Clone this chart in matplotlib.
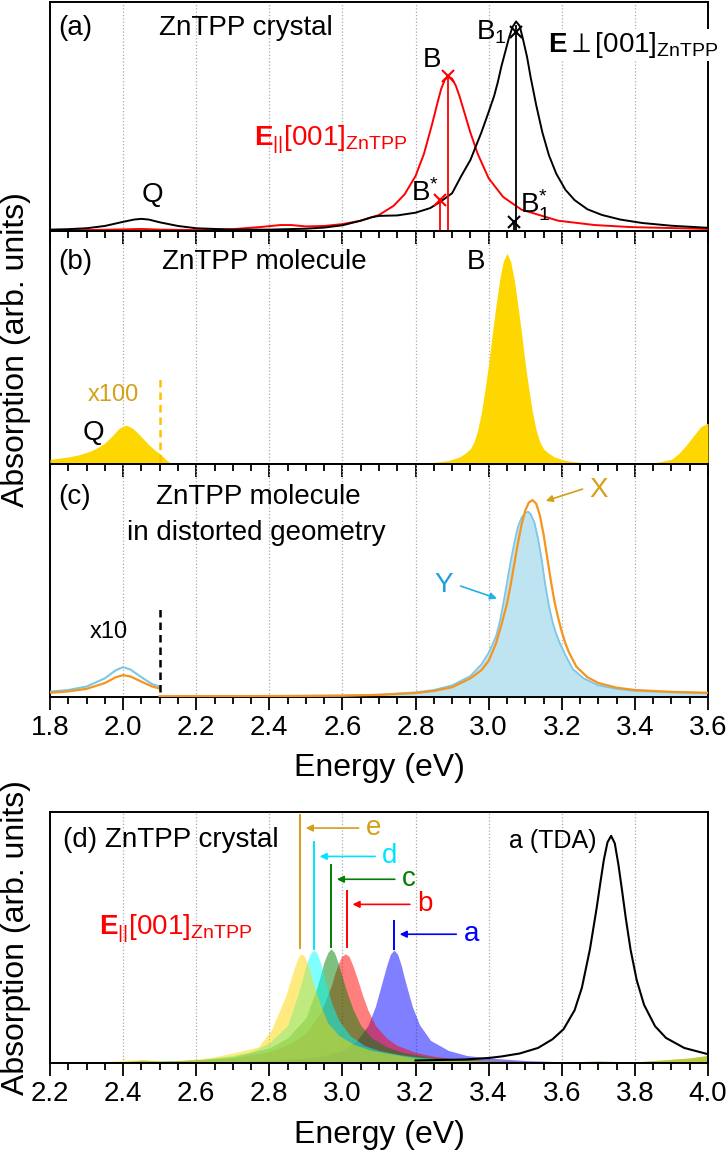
import matplotlib
matplotlib.use('Agg')
import matplotlib.pyplot as plt
from matplotlib.ticker import MultipleLocator, FormatStrFormatter

plt.rcParams['font.family'] = ['Liberation Sans', 'DejaVu Sans']
plt.rcParams['mathtext.fontset'] = 'custom'
plt.rcParams['mathtext.rm'] = 'Liberation Sans'
plt.rcParams['mathtext.bf'] = 'Liberation Sans:bold'
plt.rcParams['mathtext.it'] = 'Liberation Sans:italic'
plt.rcParams['mathtext.sf'] = 'Liberation Sans'

# ---------------- Panel (a): ZnTPP crystal ----------------
a_perp_E = [1.80, 1.85, 1.90, 1.95, 2.00, 2.03, 2.05, 2.07, 2.10, 2.15, 2.20, 2.30, 2.40, 2.50,
            2.55, 2.60, 2.65, 2.68, 2.70, 2.75, 2.80, 2.84, 2.87, 2.90, 2.925, 2.95, 2.98, 3.00,
            3.015, 3.025, 3.035, 3.045, 3.055, 3.065, 3.075, 3.085, 3.095, 3.105, 3.115, 3.13,
            3.147, 3.165, 3.185, 3.21, 3.235, 3.27, 3.31, 3.36, 3.42, 3.50, 3.60]
a_perp_I = [0.006, 0.008, 0.012, 0.022, 0.040, 0.050, 0.053, 0.050, 0.038, 0.022, 0.012, 0.006,
            0.006, 0.010, 0.015, 0.025, 0.045, 0.060, 0.066, 0.068, 0.080, 0.100, 0.130, 0.165,
            0.240, 0.310, 0.430, 0.520, 0.590, 0.650, 0.720, 0.780, 0.840, 0.890, 0.915, 0.895,
            0.830, 0.760, 0.670, 0.550, 0.430, 0.330, 0.250, 0.180, 0.135, 0.095, 0.070, 0.050,
            0.035, 0.023, 0.014]
a_par_E = [1.80, 1.90, 2.00, 2.05, 2.10, 2.20, 2.30, 2.38, 2.43, 2.46, 2.50, 2.55, 2.60, 2.65,
           2.70, 2.74, 2.77, 2.80, 2.823, 2.845, 2.86, 2.87, 2.88, 2.89, 2.90, 2.91, 2.92, 2.935,
           2.95, 2.97, 3.00, 3.04, 3.09, 3.19, 3.29, 3.39, 3.60]
a_par_I = [0.003, 0.004, 0.007, 0.009, 0.006, 0.004, 0.008, 0.018, 0.026, 0.026, 0.020, 0.022,
           0.030, 0.045, 0.070, 0.110, 0.160, 0.240, 0.337, 0.465, 0.560, 0.620, 0.660, 0.675,
           0.665, 0.635, 0.590, 0.510, 0.430, 0.337, 0.230, 0.148, 0.093, 0.045, 0.026, 0.017,
           0.009]
# transition sticks (energy, height)
a_par_stick_E = [2.868, 2.889]
a_par_stick_I = [0.135, 0.675]
a_perp_stick_E = [3.070, 3.076]
a_perp_stick_I = [0.040, 0.900]
a_perp_mark_I = [0.040, 0.870]

# ---------------- Panel (b): ZnTPP molecule ----------------
b_E = [1.80, 1.85, 1.88, 1.91, 1.93, 1.95, 1.97, 1.99, 2.008, 2.025, 2.045, 2.07, 2.09, 2.10,
       2.11, 2.12, 2.13, 2.20, 2.60, 2.75, 2.85, 2.89, 2.92, 2.935, 2.95, 2.96, 2.97, 2.98, 2.99,
       3.00, 3.01, 3.02, 3.03, 3.04, 3.05, 3.06, 3.07, 3.08, 3.09, 3.10, 3.11, 3.12, 3.13, 3.14,
       3.15, 3.165, 3.18, 3.21, 3.25, 3.35, 3.45, 3.50, 3.52, 3.54, 3.56, 3.58, 3.60]
b_I = [0.020, 0.030, 0.040, 0.055, 0.070, 0.090, 0.120, 0.155, 0.167, 0.155, 0.125, 0.083,
       0.055, 0.045, 0.030, 0.015, 0.004, 0.001, 0.001, 0.002, 0.007, 0.015, 0.030, 0.045,
       0.065, 0.095, 0.145, 0.220, 0.320, 0.430, 0.560, 0.680, 0.790, 0.870, 0.905, 0.870,
       0.790, 0.680, 0.560, 0.430, 0.320, 0.220, 0.145, 0.095, 0.065, 0.045, 0.030, 0.015,
       0.007, 0.002, 0.004, 0.020, 0.045, 0.080, 0.120, 0.160, 0.175]
b_scale_cut = 2.1

# ---------------- Panel (c): distorted geometry ----------------
cQ_E = [1.80, 1.85, 1.90, 1.95, 1.98, 2.00, 2.02, 2.05, 2.08, 2.10]
cQ_Y = [0.023, 0.030, 0.045, 0.080, 0.115, 0.128, 0.118, 0.085, 0.055, 0.045]
cQ_X = [0.018, 0.024, 0.035, 0.060, 0.085, 0.094, 0.088, 0.066, 0.045, 0.036]
cY_E = [2.10, 2.40, 2.60, 2.70, 2.80, 2.85, 2.90, 2.95, 2.98, 3.00, 3.02, 3.03, 3.04, 3.05,
        3.06, 3.07, 3.08, 3.09, 3.10, 3.108, 3.115, 3.125, 3.135, 3.145, 3.155, 3.165, 3.175,
        3.185, 3.195, 3.21, 3.23, 3.26, 3.30, 3.35, 3.40, 3.50, 3.60]
cY_I = [0.003, 0.004, 0.006, 0.010, 0.020, 0.030, 0.050, 0.090, 0.140, 0.190, 0.260, 0.320,
        0.400, 0.490, 0.580, 0.660, 0.730, 0.770, 0.790, 0.795, 0.785, 0.750, 0.680, 0.590,
        0.480, 0.390, 0.320, 0.270, 0.230, 0.180, 0.120, 0.080, 0.050, 0.035, 0.026, 0.020,
        0.017]
cX_E = [2.10, 2.40, 2.60, 2.70, 2.80, 2.85, 2.90, 2.95, 2.98, 3.00, 3.02, 3.035, 3.05, 3.06,
        3.07, 3.08, 3.09, 3.10, 3.11, 3.12, 3.13, 3.14, 3.15, 3.16, 3.17, 3.18, 3.19, 3.20,
        3.21, 3.22, 3.24, 3.27, 3.30, 3.35, 3.40, 3.50, 3.60]
cX_I = [0.003, 0.004, 0.006, 0.009, 0.017, 0.026, 0.042, 0.080, 0.115, 0.155, 0.230, 0.310,
        0.400, 0.480, 0.570, 0.660, 0.740, 0.800, 0.835, 0.845, 0.830, 0.780, 0.700, 0.600,
        0.500, 0.410, 0.340, 0.280, 0.230, 0.190, 0.130, 0.085, 0.060, 0.040, 0.030, 0.022,
        0.018]

# ---------------- Panel (d): crystal, E || [001] ----------------
d_tda_E = [3.20, 3.335, 3.40, 3.435, 3.485, 3.535, 3.575, 3.605, 3.635, 3.655, 3.677, 3.695,
           3.705, 3.715, 3.725, 3.735, 3.745, 3.755, 3.765, 3.775, 3.788, 3.805, 3.825, 3.855,
           3.885, 3.935, 4.00]
d_tda_I = [0.010, 0.014, 0.020, 0.026, 0.038, 0.060, 0.095, 0.135, 0.210, 0.300, 0.453, 0.614,
           0.713, 0.809, 0.879, 0.905, 0.875, 0.790, 0.686, 0.578, 0.453, 0.330, 0.232, 0.147,
           0.100, 0.060, 0.035]
d_a_E = [2.20, 2.60, 2.80, 2.90, 2.95, 3.00, 3.04, 3.07, 3.09, 3.11, 3.121, 3.131, 3.141, 3.151,
         3.161, 3.171, 3.191, 3.211, 3.241, 3.29, 3.34, 3.40, 3.50, 3.60, 4.00]
d_a_I = [0.000, 0.003, 0.010, 0.020, 0.030, 0.050, 0.090, 0.150, 0.225, 0.330, 0.388, 0.433,
         0.450, 0.433, 0.388, 0.330, 0.225, 0.152, 0.090, 0.050, 0.030, 0.020, 0.010, 0.005,
         0.002]
d_b_E = [2.20, 2.50, 2.70, 2.80, 2.86, 2.90, 2.94, 2.97, 2.98, 2.99, 2.998, 3.008, 3.018, 3.028,
         3.04, 3.055, 3.07, 3.09, 3.12, 3.15, 3.20, 3.25, 3.30, 3.40, 3.60, 3.70, 3.75, 4.00]
d_b_I = [0.002, 0.005, 0.020, 0.045, 0.080, 0.120, 0.200, 0.310, 0.360, 0.400, 0.425, 0.435,
         0.425, 0.390, 0.340, 0.270, 0.210, 0.150, 0.100, 0.070, 0.042, 0.027, 0.018, 0.009,
         0.003, 0.006, 0.003, 0.002]
d_c_E = [2.20, 2.40, 2.45, 2.50, 2.60, 2.70, 2.80, 2.85, 2.90, 2.93, 2.94, 2.95, 2.96, 2.969,
         2.978, 2.988, 3.00, 3.015, 3.03, 3.05, 3.08, 3.12, 3.17, 3.25, 3.40, 3.60, 3.70, 3.80,
         3.95, 4.00]
d_c_I = [0.003, 0.005, 0.012, 0.008, 0.012, 0.025, 0.060, 0.100, 0.180, 0.300, 0.350, 0.405,
         0.440, 0.455, 0.440, 0.400, 0.340, 0.270, 0.210, 0.150, 0.100, 0.065, 0.040, 0.022,
         0.008, 0.004, 0.008, 0.004, 0.020, 0.030]
d_d_E = [2.20, 2.40, 2.50, 2.60, 2.70, 2.75, 2.80, 2.85, 2.88, 2.895, 2.905, 2.914, 2.922, 2.93,
         2.94, 2.955, 2.97, 2.99, 3.02, 3.06, 3.10, 3.15, 3.20, 3.30, 3.40, 3.60, 4.00]
d_d_I = [0.003, 0.006, 0.007, 0.012, 0.030, 0.045, 0.080, 0.150, 0.280, 0.360, 0.410, 0.440,
         0.449, 0.440, 0.400, 0.320, 0.240, 0.170, 0.110, 0.070, 0.050, 0.035, 0.025, 0.012,
         0.007, 0.003, 0.002]
d_e_E = [2.20, 2.35, 2.42, 2.46, 2.52, 2.60, 2.65, 2.70, 2.73, 2.77, 2.805, 2.843, 2.858, 2.871,
         2.88, 2.888, 2.896, 2.906, 2.92, 2.94, 2.96, 2.99, 3.03, 3.08, 3.20, 3.30, 3.50, 3.80,
         3.95, 4.00]
d_e_I = [0.003, 0.006, 0.012, 0.012, 0.008, 0.015, 0.025, 0.040, 0.050, 0.064, 0.130, 0.260,
         0.330, 0.390, 0.425, 0.435, 0.425, 0.390, 0.320, 0.230, 0.160, 0.110, 0.075, 0.050,
         0.020, 0.012, 0.005, 0.004, 0.020, 0.030]
d_labels = ['a', 'b', 'c', 'd', 'e']
d_stick_E = [3.141, 3.012, 2.969, 2.922, 2.884]
d_stick_bottom = [0.455, 0.462, 0.462, 0.455, 0.46]
d_stick_top = [0.564, 0.684, 0.787, 0.880, 0.987]
d_arrow_y = [0.513, 0.632, 0.732, 0.823, 0.936]
d_arrow_tail = [3.319, 3.192, 3.151, 3.097, 3.052]

# ---------------- colours ----------------
d_colors = {'a': '#0000FF', 'b': '#FF0000', 'c': '#008000', 'd': '#00FFFF', 'e': '#FFD700'}
d_line_colors = {'a': '#0000FF', 'b': '#FF0000', 'c': '#008000', 'd': '#00E5FF', 'e': '#D4A017'}
GOLD = '#FFD700'
GOLDTXT = '#D4A017'
ORANGE = '#F7941D'
LBLUE_FILL = '#BEE4F2'
LBLUE_LINE = '#7CC6E8'

W, H = 726, 1155
fig = plt.figure(figsize=(W / 100, H / 100), dpi=100)


def add_ax(top, bottom, left=50, right=708):
    ax = fig.add_axes([left / W, 1 - bottom / H, (right - left) / W, (bottom - top) / H])
    ax.patch.set_visible(False)
    return ax


def style(ax, xmin, xmax, labels=True):
    ax.set_xlim(xmin, xmax)
    ax.set_ylim(0, 1)
    ax.set_yticks([])
    ax.xaxis.set_major_locator(MultipleLocator(0.2))
    ax.xaxis.set_minor_locator(MultipleLocator(0.05))
    ax.xaxis.set_major_formatter(FormatStrFormatter('%.1f'))
    ax.tick_params(axis='x', which='major', direction='out', length=9, width=1.3,
                   labelsize=20, pad=4)
    ax.tick_params(axis='x', which='minor', direction='out', length=5, width=1.3)
    if not labels:
        ax.tick_params(axis='x', labelbottom=False)
    ax.grid(axis='x', which='major', ls=':', color='#AAAAAA', lw=0.9)
    ax.set_axisbelow(True)
    for s in ax.spines.values():
        s.set_linewidth(1.4)


FS = 20

# ---------- (a) ----------
axa = add_ax(2, 231)
style(axa, 1.8, 3.6, labels=False)
axa.plot(a_par_E, a_par_I, color='red', lw=1.4, zorder=3)
axa.plot(a_perp_E, a_perp_I, color='black', lw=1.4, zorder=4)
axa.vlines(a_par_stick_E, 0, a_par_stick_I, color='red', lw=1.3, zorder=5)
axa.vlines(a_perp_stick_E, 0, a_perp_stick_I, color='black', lw=1.3, zorder=5)
axa.plot(a_par_stick_E, a_par_stick_I, ls='none', marker='x', ms=8, mew=1.5, color='red', zorder=6)
axa.plot(a_perp_stick_E, a_perp_mark_I, ls='none', marker='x', ms=8, mew=1.5, color='black', zorder=6)
axa.text(0.012, 0.886, '(a)', transform=axa.transAxes, fontsize=FS, va='center')
axa.text(0.166, 0.886, 'ZnTPP crystal', transform=axa.transAxes, fontsize=FS, va='center')
axa.text(0.58, 0.747, 'B', transform=axa.transAxes, fontsize=FS, va='center', ha='center')
axa.text(0.648, 0.869, r'B$_1$', transform=axa.transAxes, fontsize=FS, va='center')
axa.text(0.757, 0.812, r'$\mathbf{E}\perp$[001]$_{\mathrm{ZnTPP}}$', transform=axa.transAxes,
         fontsize=FS, va='center', zorder=10, clip_on=False,
         bbox=dict(facecolor='white', edgecolor='none', pad=1))
axa.text(0.31, 0.397, r'$\mathbf{E}_{||}$[001]$_{\mathrm{ZnTPP}}$', transform=axa.transAxes,
         fontsize=FS, va='center', color='red')
axa.text(0.549, 0.166, r'B$^{*}$', transform=axa.transAxes, fontsize=FS, va='center')
axa.text(0.156, 0.157, 'Q', transform=axa.transAxes, fontsize=FS, va='center', ha='center')
axa.text(0.714, 0.114, r'B$_1^{*}$', transform=axa.transAxes, fontsize=FS, va='center')

# ---------- (b) ----------
axb = add_ax(231, 464)
style(axb, 1.8, 3.6, labels=False)
axb.fill_between(b_E, 0, b_I, color=GOLD, lw=0, zorder=3)
axb.plot([b_scale_cut, b_scale_cut], [0.01, 0.38], color='#FFC000', lw=1.8, ls=(0, (3, 2)), zorder=4)
axb.text(0.012, 0.867, '(b)', transform=axb.transAxes, fontsize=FS, va='center')
axb.text(0.17, 0.867, 'ZnTPP molecule', transform=axb.transAxes, fontsize=FS, va='center')
axb.text(0.634, 0.867, 'B', transform=axb.transAxes, fontsize=FS, va='center')
axb.text(0.058, 0.296, 'x100', transform=axb.transAxes, fontsize=17, va='center', color=GOLDTXT)
axb.text(0.05, 0.133, 'Q', transform=axb.transAxes, fontsize=FS, va='center')

# ---------- (c) ----------
axc = add_ax(464, 697)
style(axc, 1.8, 3.6, labels=True)
axc.fill_between(cY_E, 0, cY_I, color=LBLUE_FILL, lw=0, zorder=2)
axc.plot(cY_E, cY_I, color=LBLUE_LINE, lw=1.3, zorder=3)
axc.plot(cQ_E, cQ_Y, color=LBLUE_LINE, lw=1.5, zorder=3)
axc.plot(cX_E, cX_I, color=ORANGE, lw=1.6, zorder=4)
axc.plot(cQ_E, cQ_X, color=ORANGE, lw=1.6, zorder=4)
axc.plot([b_scale_cut, b_scale_cut], [0.023, 0.388], color='black', lw=1.8, ls=(0, (3, 2)), zorder=5)
axc.text(0.012, 0.858, '(c)', transform=axc.transAxes, fontsize=FS, va='center')
axc.text(0.161, 0.858, 'ZnTPP molecule', transform=axc.transAxes, fontsize=FS, va='center')
axc.text(0.117, 0.704, 'in distorted geometry', transform=axc.transAxes, fontsize=FS, va='center')
axc.text(0.061, 0.28, 'x10', transform=axc.transAxes, fontsize=17, va='center')
axc.annotate('', xy=(3.149, 0.838), xytext=(3.264, 0.896),
             arrowprops=dict(arrowstyle='-|>', color=GOLDTXT, lw=1.2, mutation_scale=10))
axc.text(3.275, 0.89, 'X', fontsize=FS, va='center', color=GOLDTXT)
axc.annotate('', xy=(3.03, 0.419), xytext=(2.916, 0.48),
             arrowprops=dict(arrowstyle='-|>', color='#1EB4E6', lw=1.2, mutation_scale=10))
axc.text(2.878, 0.48, 'Y', fontsize=FS, va='center', ha='center', color='#1EA0D8')

fig.text(0.522, 1 - 768 / H, 'Energy (eV)', fontsize=23, ha='center', va='center')
fig.text(0.022, 1 - 350 / H, 'Absorption (arb. units)', fontsize=23, ha='center', va='center',
         rotation=90)

# ---------- (d) ----------
axd = add_ax(812, 1063)
style(axd, 2.2, 4.0, labels=True)
d_series = {'a': (d_a_E, d_a_I), 'b': (d_b_E, d_b_I), 'c': (d_c_E, d_c_I),
            'd': (d_d_E, d_d_I), 'e': (d_e_E, d_e_I)}
for k in ['a', 'b', 'c', 'd', 'e']:
    E, I = d_series[k]
    axd.fill_between(E, 0, I, color=d_colors[k], alpha=0.5, lw=0, zorder=2)
axd.plot(d_tda_E, d_tda_I, color='black', lw=1.5, zorder=4)
for lab, xs, yb, yt, ya, xt in zip(d_labels, d_stick_E, d_stick_bottom, d_stick_top,
                                   d_arrow_y, d_arrow_tail):
    c = d_line_colors[lab]
    axd.plot([xs, xs], [yb, yt], color=c, lw=1.4, zorder=5)
    axd.annotate('', xy=(xs + 0.008, ya), xytext=(xt, ya),
                 arrowprops=dict(arrowstyle='-|>', color=c, lw=1.2, mutation_scale=10))
    axd.text(xt + 0.012, ya, lab, fontsize=FS, va='center', color=c)
axd.text(0.019, 0.888, '(d) ZnTPP crystal', transform=axd.transAxes, fontsize=FS, va='center')
axd.text(0.83, 0.884, 'a (TDA)', transform=axd.transAxes, fontsize=18, va='center', ha='right')
axd.text(0.075, 0.534, r'$\mathbf{E}_{||}$[001]$_{\mathrm{ZnTPP}}$', transform=axd.transAxes,
         fontsize=FS, va='center', color='red')

fig.text(0.522, 1 - 1135 / H, 'Energy (eV)', fontsize=23, ha='center', va='center')
fig.text(0.022, 1 - 938 / H, 'Absorption (arb. units)', fontsize=23, ha='center', va='center',
         rotation=90)

fig.savefig('out.png', dpi=100)
